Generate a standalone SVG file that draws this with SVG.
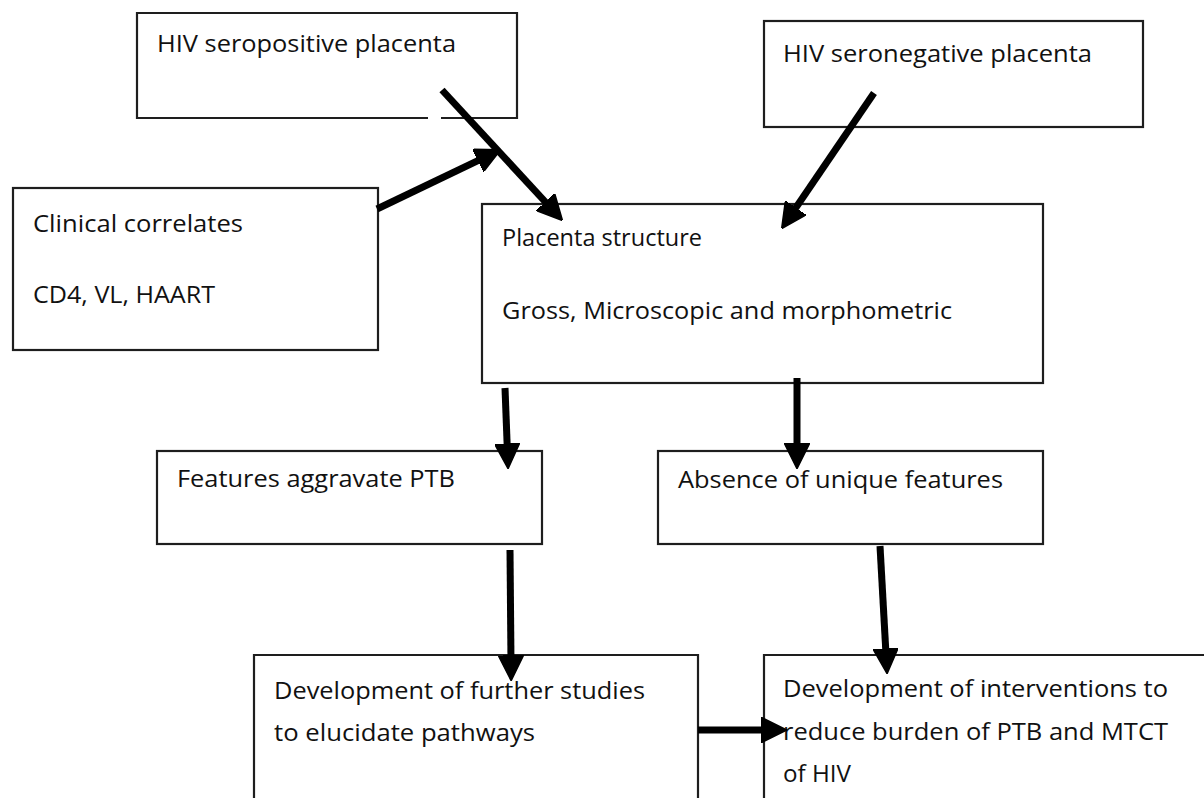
<svg xmlns="http://www.w3.org/2000/svg" width="1204" height="798" viewBox="0 0 1204 798">
<style>
.box{fill:none;stroke:#1e1e1e;stroke-width:2.2}
.t{font-family:"Open Sans","Liberation Sans",sans-serif;font-size:24px;fill:#111}
.arr{stroke:#000;stroke-width:7;fill:none;marker-end:url(#ah)}
</style>
<defs>
<marker id="ah" viewBox="0 0 10 10" markerWidth="3.6" markerHeight="3.6" refX="3" refY="5" orient="auto" markerUnits="strokeWidth">
<path d="M0,0 L10,5 L0,10 z" fill="#000" stroke="#000" stroke-width="0.6" stroke-linejoin="round"/>
</marker>
</defs>
<rect width="1204" height="798" fill="#fff"/>
<g id="n-seropositive">
<path class="box" d="M428,118 H137 V13 H517 V118 H441"/>
<text class="t" x="157" y="52" textLength="299" lengthAdjust="spacingAndGlyphs">HIV seropositive  placenta</text>
</g>
<g id="n-seronegative">
<rect class="box" x="764" y="21" width="379" height="106"/>
<text class="t" x="783" y="62" textLength="309" lengthAdjust="spacingAndGlyphs">HIV seronegative placenta</text>
</g>
<g id="n-clinical">
<rect class="box" x="13" y="188" width="365" height="162"/>
<text class="t" x="33" y="232" textLength="210" lengthAdjust="spacingAndGlyphs">Clinical correlates</text>
<text class="t" x="33" y="303" textLength="182" lengthAdjust="spacingAndGlyphs">CD4, VL, HAART</text>
</g>
<g id="n-placenta">
<rect class="box" x="482" y="204" width="561" height="179"/>
<text class="t" x="502" y="246" textLength="200" lengthAdjust="spacingAndGlyphs">Placenta structure</text>
<text class="t" x="502" y="319" textLength="450" lengthAdjust="spacingAndGlyphs">Gross, Microscopic and morphometric</text>
</g>
<g id="n-features">
<rect class="box" x="157" y="451" width="385" height="93"/>
<text class="t" x="177" y="487" textLength="278" lengthAdjust="spacingAndGlyphs">Features aggravate PTB</text>
</g>
<g id="n-absence">
<rect class="box" x="658" y="451" width="385" height="93"/>
<text class="t" x="678" y="488" textLength="325" lengthAdjust="spacingAndGlyphs">Absence of unique features</text>
</g>
<g id="n-studies">
<path class="box" d="M254,800 V655 H698 V800"/>
<text class="t" x="274" y="699" textLength="371" lengthAdjust="spacingAndGlyphs">Development  of further studies</text>
<text class="t" x="274" y="741" textLength="261" lengthAdjust="spacingAndGlyphs">to elucidate pathways</text>
</g>
<g id="n-interventions">
<path class="box" d="M764,800 V655 H1210"/>
<text class="t" x="783" y="697" textLength="385" lengthAdjust="spacingAndGlyphs">Development of interventions to</text>
<text class="t" x="783" y="740" textLength="385" lengthAdjust="spacingAndGlyphs">reduce burden of PTB and MTCT</text>
<text class="t" x="783" y="782" textLength="68" lengthAdjust="spacingAndGlyphs">of HIV</text>
</g>
<g id="connectors">
<line class="arr" x1="442" y1="90" x2="550.5" y2="207.5"/>
<line class="arr" x1="377" y1="209" x2="484.7" y2="157.4"/>
<line class="arr" x1="874" y1="93" x2="791.6" y2="214"/>
<line class="arr" x1="505" y1="388" x2="507.4" y2="451"/>
<line class="arr" x1="797" y1="378" x2="797" y2="451"/>
<line class="arr" x1="510" y1="550" x2="511" y2="663"/>
<line class="arr" x1="880" y1="546" x2="886.1" y2="656"/>
<line class="arr" x1="698" y1="730" x2="769" y2="730"/>
</g>
</svg>
